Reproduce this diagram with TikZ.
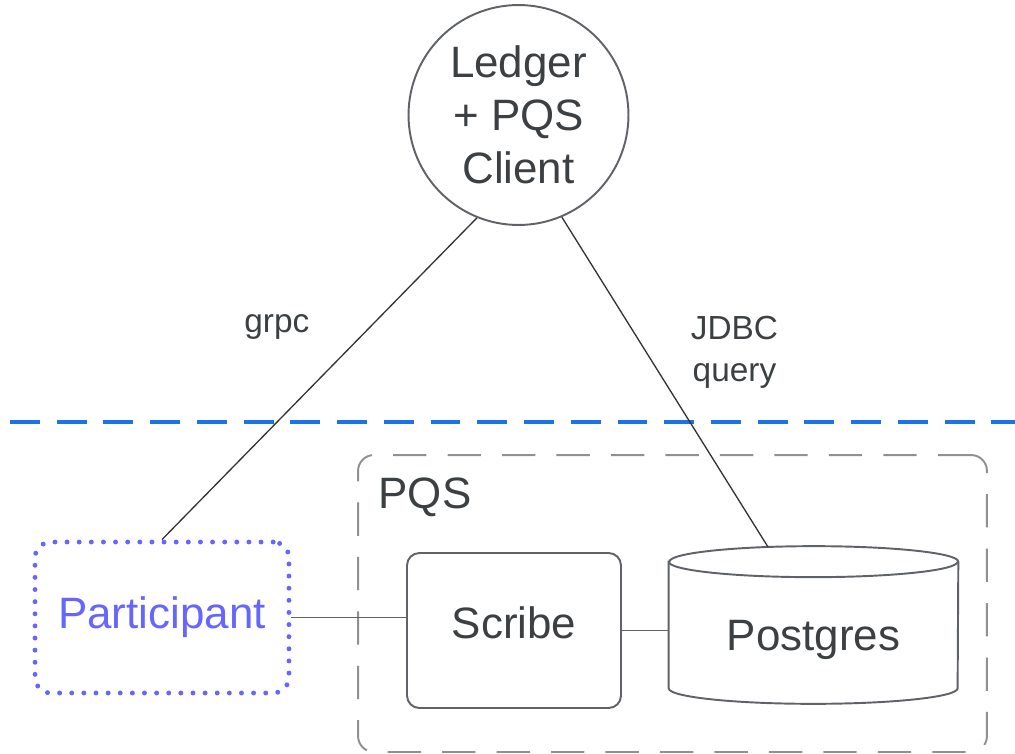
\documentclass[tikz,border=0pt]{standalone}
\usepackage{fontspec}
\setmainfont{Liberation Sans}
\usepackage{tikz}
\usetikzlibrary{backgrounds}

\definecolor{ink}{HTML}{3C4043}
\definecolor{edgegray}{HTML}{5F6368}
\definecolor{zoneblue}{HTML}{1A73E8}
\definecolor{framegray}{HTML}{8E9094}
\definecolor{peerblue}{HTML}{6666FF}

\begin{document}
\begin{tikzpicture}[x=0.02cm, y=-0.02cm,
    every node/.style={font=\fontsize{25}{30}\selectfont, text=ink, align=center},
    box/.style={draw=edgegray, line width=1.1pt, rounded corners=7pt, inner sep=0pt},
    wire/.style={draw=black!80, line width=0.75pt},
    link/.style={draw=edgegray, line width=1pt},
    lbl/.style={font=\fontsize{19}{24}\selectfont}]
    \useasboundingbox (0,0) rectangle (1015,754);

    \draw[zoneblue, line width=2.8pt, dash pattern=on 17pt off 9.6pt] (10,422) -- (1015,422);

    \node[draw=framegray, line width=1.1pt, dash pattern=on 19pt off 12pt, rounded corners=9pt, minimum width=12.58cm, minimum height=5.94cm] at (672.5,603.5) (pqs) {};
    \node at (425,497) (pqslbl) {PQS};

    \node[circle, draw=edgegray, line width=1.1pt, minimum size=4.4cm, inner sep=0pt] at (518.5,115) (led) {Ledger\\+ PQS\\Client};
    \node[draw=peerblue, text=peerblue, line width=2.8pt, line cap=round, dash pattern=on 0pt off 6.9pt, rounded corners=9pt, minimum width=5.08cm, minimum height=3.02cm] at (162,617.5) (part) {Participant};
    \node[box, minimum width=4.28cm, minimum height=3.1cm, text height=0.6cm, text depth=0.3cm] at (514,630.5) (scribe) {Scribe};
    \node[inner sep=0pt, minimum width=5.78cm, minimum height=2.52cm, text height=1.5cm, text depth=0.5cm] at (813.5,625) (pg) {Postgres};
    \coordinate (pgtop) at ([shift={(-45.5,-14.7)}]pg.north);

    \begin{scope}[on background layer]
        \draw[edgegray, line width=1.1pt, fill=white] (pg.north west) -- (pg.south west)
            arc[start angle=180, end angle=360, x radius=2.89cm, y radius=0.31cm] -- (pg.north east)
            arc[start angle=0, end angle=180, x radius=2.89cm, y radius=0.31cm] -- cycle;
        \draw[edgegray, line width=1.1pt] (pg.north west) arc[start angle=180, end angle=360, x radius=2.89cm, y radius=0.31cm];
    \end{scope}

    \draw[wire] (led.248.6) -- node[lbl, pos=0.34, left=1.08cm] (grpc) {grpc} (part.north);
    \draw[wire] (led.293) -- node[lbl, pos=0.41, right=0.76cm] (jdbc) {JDBC\\query} (pgtop);
    \draw[link] (part.east) -- (part.east -| scribe.west);
    \draw[link] (scribe.east) -- (scribe.east -| pg.west);
\end{tikzpicture}
\end{document}
